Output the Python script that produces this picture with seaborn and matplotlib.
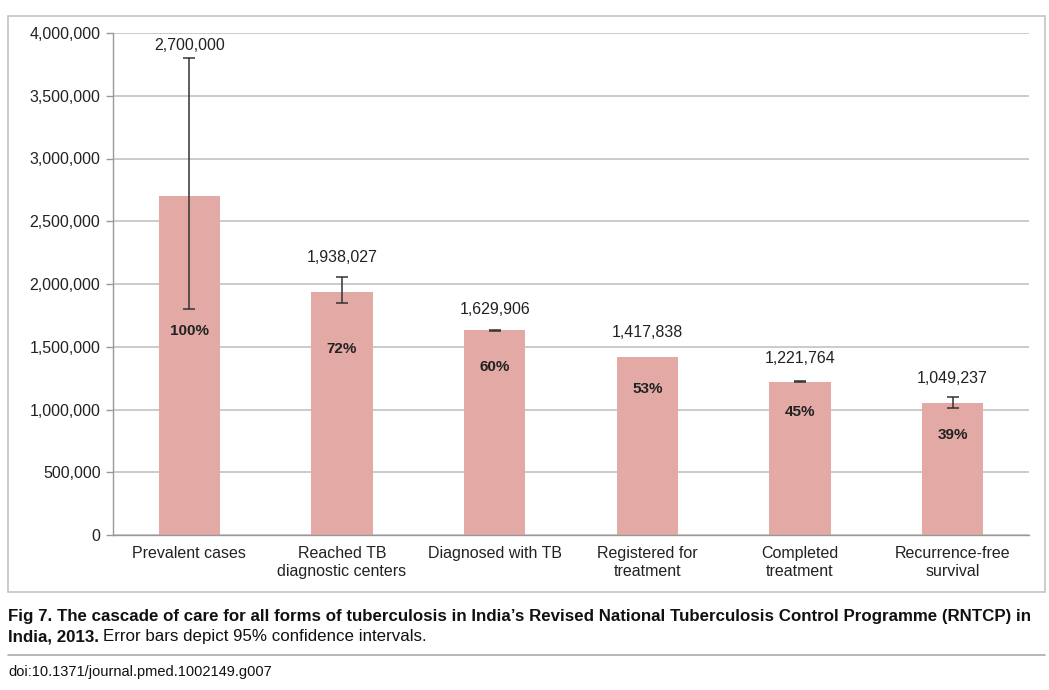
import matplotlib
matplotlib.use("Agg")
import matplotlib.pyplot as plt
import seaborn as sns
import numpy as np
from matplotlib.patches import Rectangle
from matplotlib.lines import Line2D

categories = ["Prevalent cases", "Reached TB\ndiagnostic centers", "Diagnosed with TB",
              "Registered for\ntreatment", "Completed\ntreatment", "Recurrence-free\nsurvival"]
values = [2700000, 1938027, 1629906, 1417838, 1221764, 1049237]
ci_low = [1800000, 1850000, 1623000, np.nan, 1216000, 1010000]
ci_high = [3800000, 2055000, 1636000, np.nan, 1227000, 1100000]
value_labels = ["2,700,000", "1,938,027", "1,629,906", "1,417,838", "1,221,764", "1,049,237"]
percents = ["100%", "72%", "60%", "53%", "45%", "39%"]
yticks = [0, 500000, 1000000, 1500000, 2000000, 2500000, 3000000, 3500000, 4000000]

sns.set_theme(style="white")
plt.rcParams['font.family'] = ['Liberation Sans', 'DejaVu Sans']

W, H = 1049, 690
fig = plt.figure(figsize=(W / 100, H / 100), dpi=100)

# outer frame
fig.patches.append(Rectangle((8 / W, 1 - 592 / H), (1045 - 8) / W, (592 - 16) / H,
                             transform=fig.transFigure, fill=False, edgecolor="#c4c4c4", lw=1.2))

ax = fig.add_axes([113 / W, 1 - 535 / H, (1029 - 113) / W, (535 - 33) / H])
bar_color = "#e2a9a5"
sns.barplot(x=categories, y=values, color=bar_color, width=0.4, ax=ax, saturation=1,
            linewidth=0, edgecolor=bar_color)

x = np.arange(len(values))
vals = np.array(values, float)
lo = np.array(ci_low, float)
hi = np.array(ci_high, float)
mask = ~np.isnan(lo)
ax.errorbar(x[mask], vals[mask], yerr=[vals[mask] - lo[mask], hi[mask] - vals[mask]],
            fmt="none", ecolor="#333333", elinewidth=1.1, capsize=4, capthick=1.1, zorder=5)

ax.set_ylim(0, 4000000)
ax.set_xlim(-0.5, len(values) - 0.5)
ax.set_yticks(yticks)
ax.set_yticklabels([f"{v:,}" for v in yticks], fontsize=11.5, color="#222222")
ax.yaxis.grid(True, color="#bdbdbd", lw=1.1)
ax.set_axisbelow(True)
ax.tick_params(axis="x", which="major", length=0, labelsize=11.5, labelcolor="#222222", pad=8)
ax.set_xticks(np.arange(-0.5, len(values), 1.0), minor=True)
ax.tick_params(axis="x", which="minor", length=5, color="#999999", direction="out", width=1)
ax.tick_params(axis="y", length=5, color="#999999", direction="out", width=1, pad=4, left=True)
for s in ["top", "right"]:
    ax.spines[s].set_visible(False)
for s in ["left", "bottom"]:
    ax.spines[s].set_color("#999999")
    ax.spines[s].set_linewidth(1)
ax.set_xlabel("")
ax.set_ylabel("")

# value labels above bars / error bars
top = np.where(np.isnan(hi), vals, np.fmax(hi, vals))
val_off = [4, 9, 9, 12, 11, 8]
for i in range(len(values)):
    ax.annotate(value_labels[i], (x[i], top[i]), xytext=(0, val_off[i]), textcoords="offset points",
                ha="center", va="bottom", fontsize=11.5, color="#222222")

# percentage labels inside bars
pct_off = [135, 57, 37, 32, 30, 32]
for i in range(len(values)):
    ax.annotate(percents[i], (x[i], vals[i]), xytext=(0, -pct_off[i] * 0.72), textcoords="offset points",
                ha="center", va="center", fontsize=11, fontweight="bold", color="#222222")

# caption
cap_font = ['Liberation Sans Narrow', 'Liberation Sans', 'DejaVu Sans']
cap_size = 12.2
fig.text(8 / W, 1 - 617 / H, "Fig 7. The cascade of care for all forms of tuberculosis in India\u2019s Revised "
         "National Tuberculosis Control Programme (RNTCP) in", fontsize=cap_size, fontweight="bold",
         family=cap_font, va="center", ha="left", color="#111111")
t1 = fig.text(8 / W, 1 - 637 / H, "India, 2013.", fontsize=cap_size, fontweight="bold",
              family=cap_font, va="center", ha="left", color="#111111")
fig.canvas.draw()
bb = t1.get_window_extent(fig.canvas.get_renderer())
fig.text(bb.x1 / W + 4 / W, 1 - 637 / H, "Error bars depict 95% confidence intervals.", fontsize=cap_size,
         family=cap_font, va="center", ha="left", color="#111111")
fig.lines.append(Line2D([8 / W, 1045 / W], [1 - 655 / H, 1 - 655 / H], transform=fig.transFigure,
                        color="#aaaaaa", lw=1.2))
fig.text(8 / W, 1 - 672 / H, "doi:10.1371/journal.pmed.1002149.g007", fontsize=10.5,
         family=cap_font, va="center", ha="left", color="#111111")

fig.savefig("out.png", dpi=100)
